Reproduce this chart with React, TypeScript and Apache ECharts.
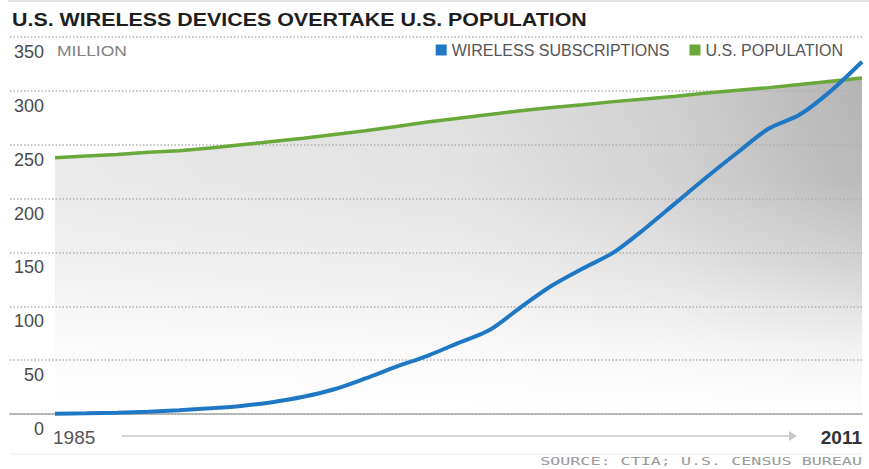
import React, { useEffect, useRef } from 'react';
import * as echarts from 'echarts';

const years = [1985, 1986, 1987, 1988, 1989, 1990, 1991, 1992, 1993, 1994, 1995, 1996, 1997, 1998, 1999, 2000, 2001, 2002, 2003, 2004, 2005, 2006, 2007, 2008, 2009, 2010, 2011];
const wireless = [0.3, 0.7, 1.2, 2.1, 3.5, 5.3, 7.5, 11, 16, 23, 33, 44, 54, 66, 78, 99, 119, 135, 150, 172, 196, 220, 243, 265, 278, 300, 327];
const population = [238, 239.5, 241, 243, 244.5, 247, 250, 253, 256, 259.5, 263, 267, 271, 274.5, 278, 281.5, 284.5, 287, 290, 292.5, 295, 298, 300.5, 303, 306, 309, 312];
const yMin = 0;
const yMax = 350;
const yStep = 50;
const xLabels = ['1985', '2011'];
const seriesNames = ['WIRELESS SUBSCRIPTIONS', 'U.S. POPULATION'];
const titleText = 'U.S. WIRELESS DEVICES OVERTAKE U.S. POPULATION';
const unitText = 'MILLION';
const sourceText = 'SOURCE: CTIA; U.S. CENSUS BUREAU';

const FONT = '"Liberation Sans", Arial, Helvetica, sans-serif';
const BLUE = '#1e78c3';
const GREEN = '#6aa83a';

export default function App() {
  const ref = useRef<HTMLDivElement>(null);
  useEffect(() => {
    if (!ref.current) return;
    const chart = echarts.init(ref.current, null, { renderer: 'svg' });
    const gridLeft = 10;
    const gridRight = 862;
    const dataLeft = 55;
    const pxPerYear = (gridRight - dataLeft) / (years[years.length - 1] - years[0]);
    const xMin = years[0] - (dataLeft - gridLeft) / pxPerYear;

    const wData = years.map((y, i) => [y, wireless[i]]);
    const pData = years.map((y, i) => [y, population[i]]);

    chart.setOption({
      animation: false,
      textStyle: { fontFamily: FONT },
      grid: { left: gridLeft, right: 869 - gridRight, top: 37, bottom: 55, containLabel: false },
      legend: {
        data: seriesNames,
        right: 21,
        top: 37,
        icon: 'rect',
        itemWidth: 11,
        itemHeight: 11,
        itemGap: 20,
        textStyle: { fontSize: 16, color: '#555', fontFamily: FONT },
      },
      xAxis: {
        type: 'value',
        min: xMin,
        max: years[years.length - 1],
        z: 3,
        axisLine: { show: true, lineStyle: { color: '#a8a8a8', width: 1.5 } },
        axisTick: { show: false },
        axisLabel: { show: false },
        splitLine: { show: false },
      },
      yAxis: {
        type: 'value',
        min: yMin,
        max: yMax,
        interval: yStep,
        z: 3,
        axisLine: { show: false },
        axisTick: { show: false },
        axisLabel: {
          inside: true,
          margin: 34,
          align: 'right',
          verticalAlign: 'top',
          padding: [6, 0, 0, 0],
          fontSize: 18,
          color: '#4a4a4a',
          fontFamily: FONT,
        },
        splitLine: { show: true, lineStyle: { color: '#b0b0b0', width: 1.5, type: [1.5, 2] } },
      },
      series: [
        {
          name: 'popFill',
          type: 'line',
          data: pData,
          symbol: 'none',
          z: 1,
          silent: true,
          lineStyle: { width: 0 },
          areaStyle: {
            opacity: 1,
            color: new echarts.graphic.LinearGradient(0, 0, 1, 0, [
              { offset: 0, color: '#e8e8e8' },
              { offset: 0.5, color: '#e0e0e0' },
              { offset: 0.75, color: '#d0d0d0' },
              { offset: 1, color: '#b4b4b4' },
            ]),
          },
        },
        {
          name: 'popFade',
          type: 'line',
          data: pData,
          symbol: 'none',
          z: 1,
          silent: true,
          lineStyle: { width: 0 },
          areaStyle: {
            opacity: 1,
            color: new echarts.graphic.LinearGradient(0, 0, 0, 1, [
              { offset: 0, color: 'rgba(255,255,255,0)' },
              { offset: 0.3, color: 'rgba(255,255,255,0.08)' },
              { offset: 0.55, color: 'rgba(255,255,255,0.4)' },
              { offset: 0.8, color: 'rgba(255,255,255,0.82)' },
              { offset: 1, color: 'rgba(255,255,255,1)' },
            ]),
          },
        },
        {
          name: seriesNames[1],
          type: 'line',
          data: pData,
          symbol: 'none',
          z: 5,
          color: GREEN,
          lineStyle: { color: GREEN, width: 3.5 },
        },
        {
          name: seriesNames[0],
          type: 'line',
          data: wData,
          symbol: 'none',
          smooth: 0.3,
          z: 6,
          color: BLUE,
          lineStyle: { color: BLUE, width: 4 },
        },
      ],
      graphic: [
        { type: 'line', z: 10, shape: { x1: 8, y1: 1, x2: 869, y2: 1 }, style: { stroke: '#d8d8d8', lineWidth: 1.5 } },
        {
          type: 'text', z: 10, x: 12, y: 19, scaleX: 1.127,
          style: { text: titleText, font: `bold 19px ${FONT}`, fill: '#1e1e1e', align: 'left', verticalAlign: 'middle' },
        },
        {
          type: 'text', z: 10, x: 57, y: 51, scaleX: 1.25,
          style: { text: unitText, font: `14px ${FONT}`, fill: '#808080', align: 'left', verticalAlign: 'middle' },
        },
        {
          type: 'text', z: 10, x: 53, y: 437,
          style: { text: xLabels[0], font: `19px ${FONT}`, fill: '#555', align: 'left', verticalAlign: 'middle' },
        },
        {
          type: 'text', z: 10, x: 862, y: 437,
          style: { text: xLabels[1], font: `bold 19px ${FONT}`, fill: '#333', align: 'right', verticalAlign: 'middle' },
        },
        { type: 'line', z: 10, shape: { x1: 122, y1: 436, x2: 790, y2: 436 }, style: { stroke: '#c8c8c8', lineWidth: 1.5 } },
        { type: 'polygon', z: 10, shape: { points: [[789, 431], [797, 436], [789, 441]] }, style: { fill: '#c8c8c8' } },
        { type: 'line', z: 10, shape: { x1: 10, y1: 454, x2: 862, y2: 454 }, style: { stroke: '#eeeeee', lineWidth: 1 } },
        {
          type: 'text', z: 10, x: 862, y: 461, scaleX: 1.52,
          style: { text: sourceText, font: `11px "DejaVu Sans Mono", monospace`, fill: '#999', align: 'right', verticalAlign: 'middle' },
        },
      ],
    });
    return () => chart.dispose();
  }, []);
  return <div ref={ref} style={{ position: 'fixed', left: 0, top: 0, width: 869, height: 469, background: '#fff' }} />;
}
